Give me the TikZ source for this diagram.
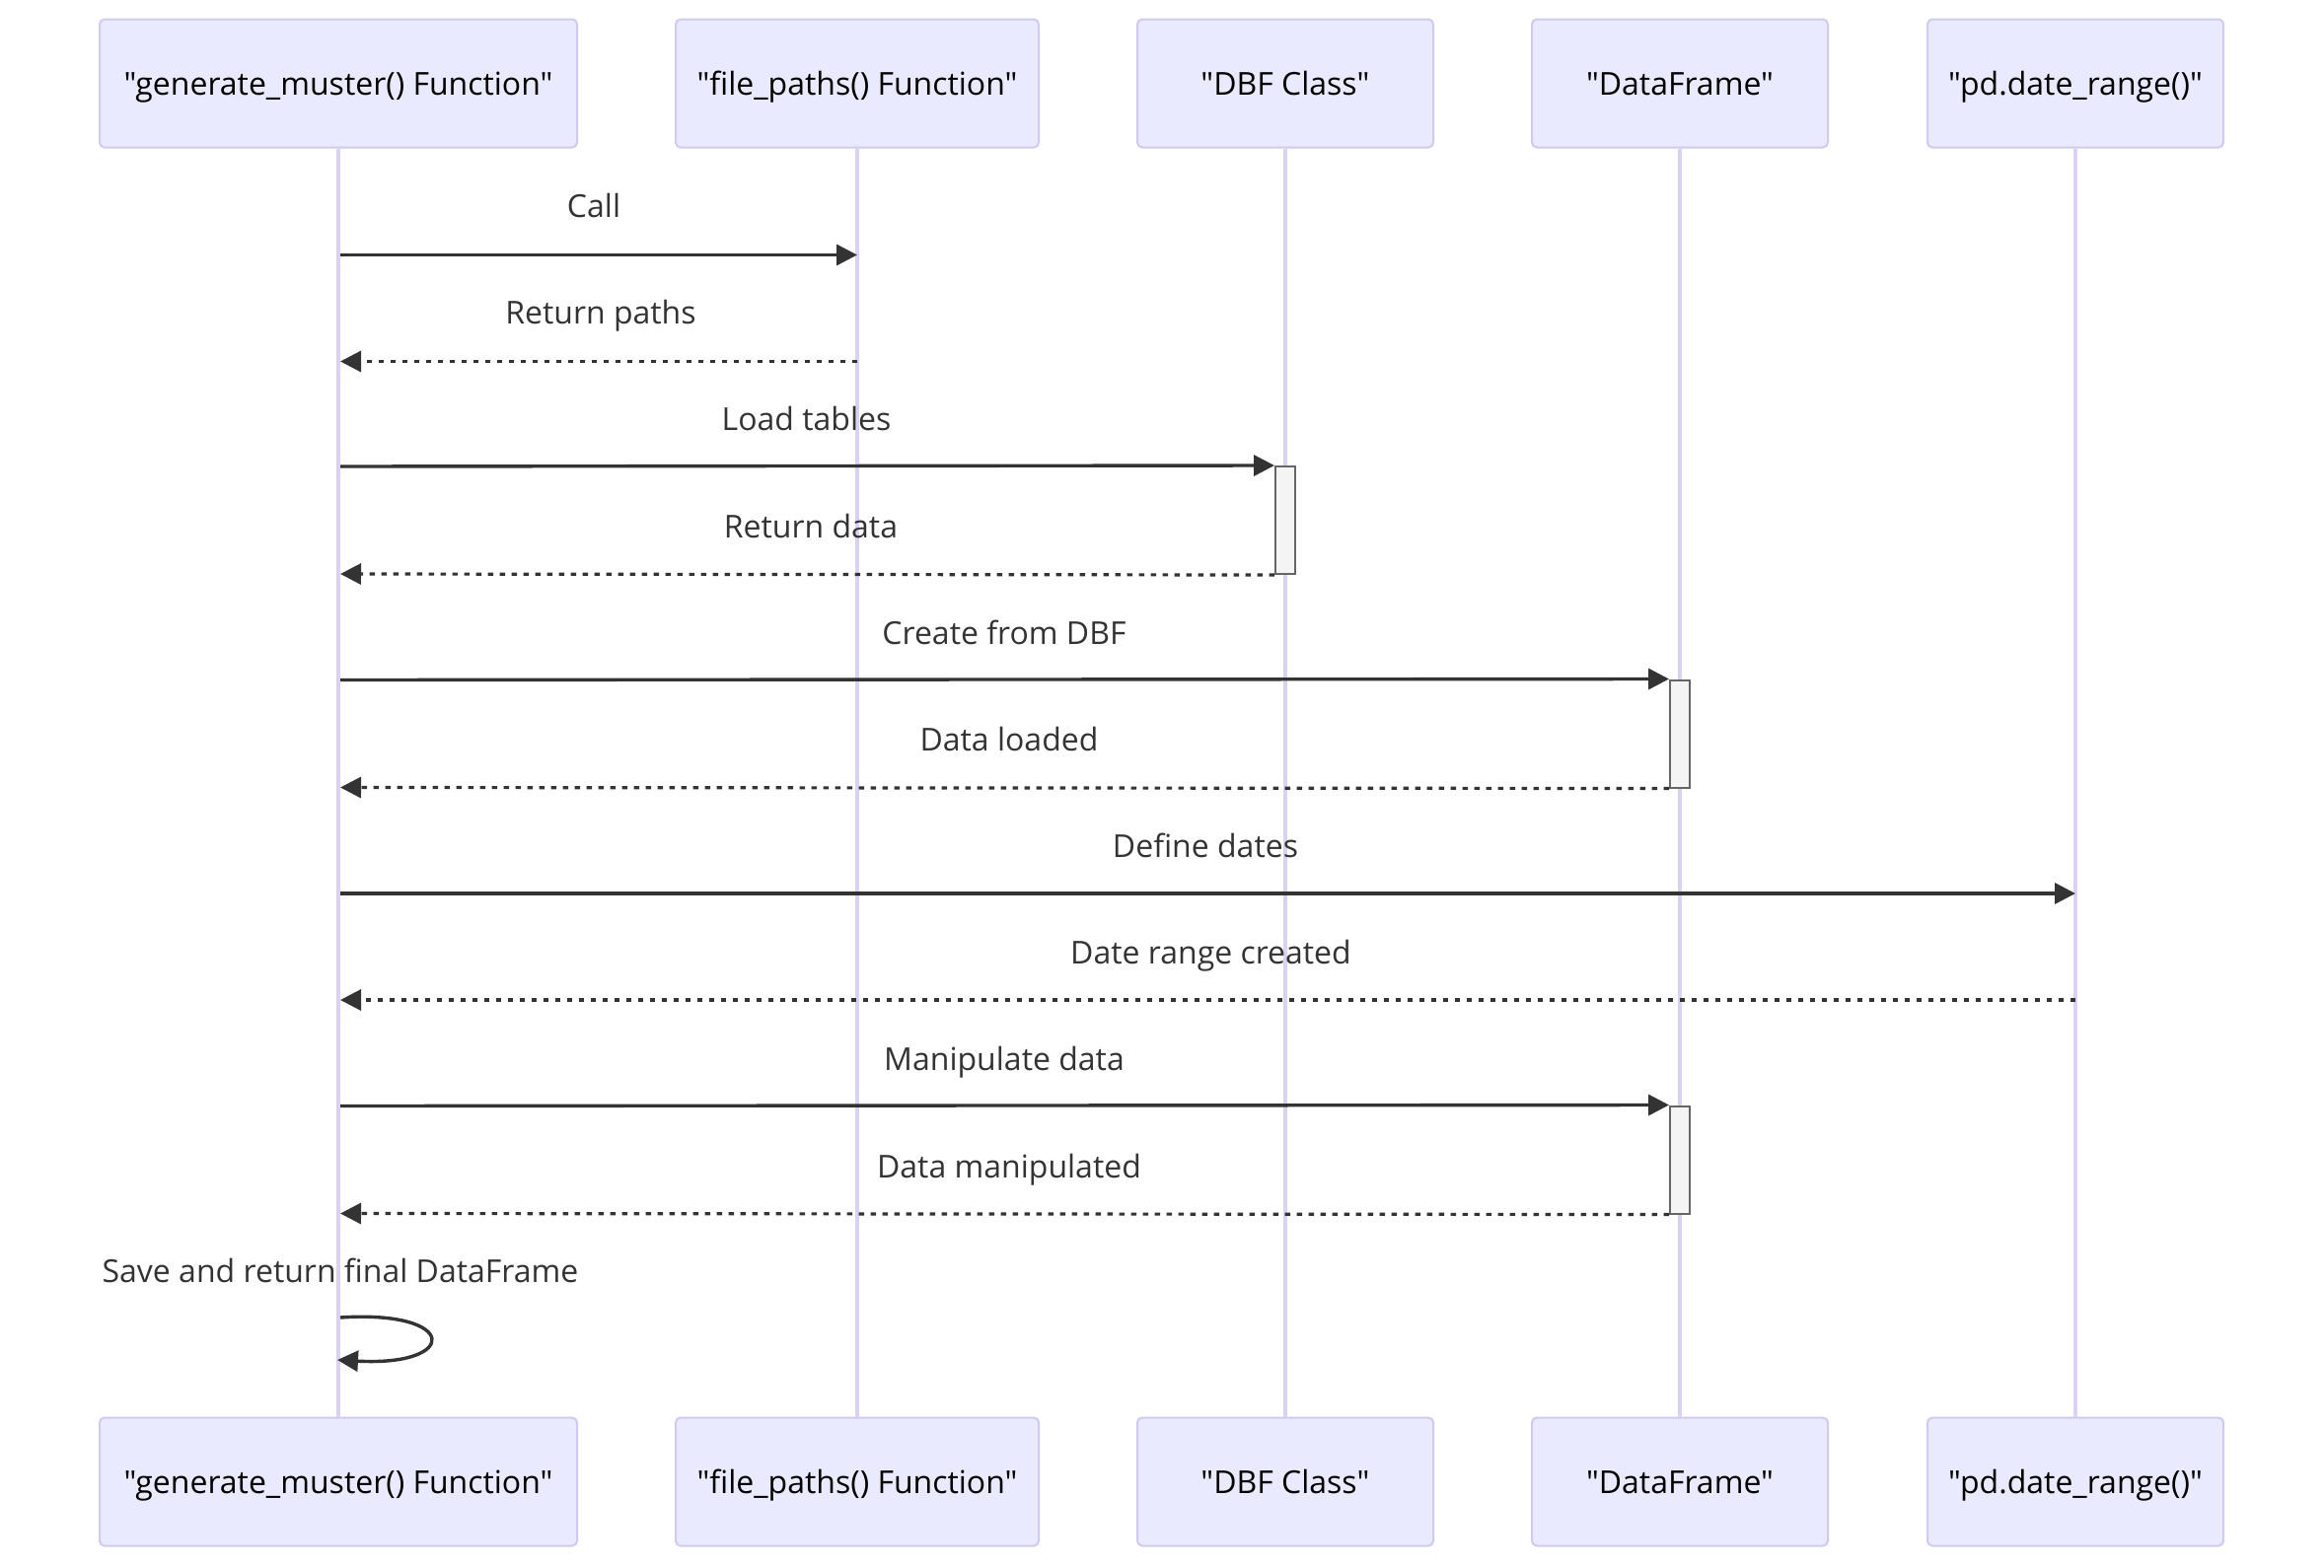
\documentclass[tikz,border=0pt]{standalone}
\usepackage{fontspec}
\setmainfont{Open Sans}[Ligatures=TeXOff]
\usetikzlibrary{arrows.meta}
\definecolor{actfill}{HTML}{EAEAFF}
\definecolor{actline}{HTML}{D2C9F0}
\definecolor{lifeln}{HTML}{DAD1F3}
\definecolor{ink}{HTML}{333333}
\definecolor{barfill}{HTML}{F4F4F4}
\definecolor{barline}{HTML}{666666}
\begin{document}
\begin{tikzpicture}[x=1pt,y=-1pt,
  actor/.style={draw=actline, fill=actfill, line width=2pt, rounded corners=5pt,
    minimum height=130pt, inner sep=0pt, text height=26pt, text depth=3pt,
    text=black, font=\fontsize{32}{38}\selectfont},
  life/.style={draw=lifeln, line width=4pt},
  msg/.style={draw=ink, line width=3.4pt, -{Triangle[length=21pt,width=21pt]}},
  reply/.style={msg, line width=3.2pt, dash pattern=on 5.5pt off 6.5pt},
  lbl/.style={text=ink, font=\fontsize{32}{38}\selectfont, inner sep=0pt,
    text height=26pt, text depth=3pt},
  bar/.style={draw=barline, fill=barfill, line width=2pt, minimum width=20pt, inner sep=0pt}
]
\useasboundingbox (0,0) rectangle (2356,1590);

% participants, top row
\node[actor, minimum width=484pt] (t1) at (343,84.5)  {"generate\_muster() Function"};
\node[actor, minimum width=368pt] (t2) at (869,84.5)  {"file\_paths() Function"};
\node[actor, minimum width=300pt] (t3) at (1303,84.5) {"DBF Class"};
\node[actor, minimum width=300pt] (t4) at (1703,84.5) {"DataFrame"};
\node[actor, minimum width=300pt] (t5) at (2104,84.5) {"pd.date\_range()"};
% participants, bottom row
\node[actor, minimum width=484pt] (b1) at (343,1502.5)  {"generate\_muster() Function"};
\node[actor, minimum width=368pt] (b2) at (869,1502.5)  {"file\_paths() Function"};
\node[actor, minimum width=300pt] (b3) at (1303,1502.5) {"DBF Class"};
\node[actor, minimum width=300pt] (b4) at (1703,1502.5) {"DataFrame"};
\node[actor, minimum width=300pt] (b5) at (2104,1502.5) {"pd.date\_range()"};

% lifelines
\foreach \i in {1,...,5} { \draw[life] (t\i.south) -- (b\i.north); }

% activation bars
\node[bar, minimum height=109pt] (act1) at (1303,527.5) {};
\node[bar, minimum height=109pt] (act2) at (1703,744)   {};
\node[bar, minimum height=109pt] (act3) at (1703,1176)  {};

% message end points
\coordinate (m1a) at (345,258.5);  \coordinate (m1b) at (869,258.5);
\coordinate (m2a) at (869,366.5);  \coordinate (m2b) at (345,366.5);
\coordinate (m3a) at (345,473);    \coordinate (m3b) at (act1.north west);
\coordinate (m4a) at (act1.south west); \coordinate (m4b) at (345,582);
\coordinate (m5a) at (345,689.5);  \coordinate (m5b) at (act2.north west);
\coordinate (m6a) at (act2.south west); \coordinate (m6b) at (345,798.5);
\coordinate (m7a) at (345,906);    \coordinate (m7b) at (2104,906);
\coordinate (m8a) at (2104,1014);  \coordinate (m8b) at (345,1014);
\coordinate (m9a) at (345,1121.5); \coordinate (m9b) at (act3.north west);
\coordinate (m10a) at (act3.south west); \coordinate (m10b) at (345,1230.5);
\coordinate (s1) at (345,1336);    \coordinate (s2) at (342,1379);

% messages
\draw[msg]   (m1a) -- (m1b);
\draw[reply] (m2a) -- (m2b);
\draw[msg]   (m3a) -- (m3b);
\draw[reply] (m4a) -- (m4b);
\draw[msg]   (m5a) -- (m5b);
\draw[reply] (m6a) -- (m6b);
\draw[msg]   (m7a) -- (m7b);
\draw[reply] (m8a) -- (m8b);
\draw[msg]   (m9a) -- (m9b);
\draw[reply] (m10a) -- (m10b);
\draw[msg] (s1) .. controls (466,1328) and (466,1386) .. (s2);

% message labels
\node[lbl] (l1)  at (602,209)     {Call};
\node[lbl] (l2)  at (609,317)     {Return paths};
\node[lbl] (l3)  at (817.5,425)   {Load tables};
\node[lbl] (l4)  at (822,533.5)   {Return data};
\node[lbl] (l5)  at (1018,641.5)  {Create from DBF};
\node[lbl] (l6)  at (1023,750)    {Data loaded};
\node[lbl] (l7)  at (1222,858)    {Define dates};
\node[lbl] (l8)  at (1227.5,966)  {Date range created};
\node[lbl] (l9)  at (1018,1074)   {Manipulate data};
\node[lbl] (l10) at (1023,1182.5) {Data manipulated};
\node[lbl] (l11) at (345,1289)    {Save and return final DataFrame};
\end{tikzpicture}
\end{document}
